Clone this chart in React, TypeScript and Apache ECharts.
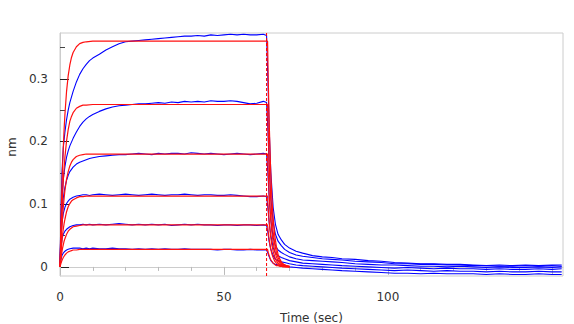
import React, { useEffect, useRef } from "react";
import * as echarts from "echarts";

// Time axis (sec) for measured (blue) traces
const blueT = [0, 0.3, 0.6, 1, 1.5, 2, 2.5, 3, 4, 5, 6, 7, 8, 9, 10,
  12, 14, 16, 18, 20, 22, 24, 26, 28, 30, 32, 34, 36, 38, 40, 42, 44, 46, 48, 50, 52, 54, 56, 58, 60, 62, 63,
  63.4, 63.8, 64.3, 65, 65.7, 66.5, 67.5, 68.5, 70, 72, 74, 77, 80, 83, 86, 90, 94, 98, 102, 106, 110, 114, 118, 122, 126, 130, 134, 138, 142, 146, 150, 153];

const blue1 = [0, 0.09, 0.15, 0.19, 0.215, 0.235, 0.25, 0.262, 0.28, 0.295, 0.307, 0.316, 0.323, 0.329, 0.333,
  0.339, 0.346, 0.351, 0.356, 0.359, 0.360, 0.361, 0.362, 0.363, 0.364, 0.365, 0.366, 0.367, 0.368, 0.368, 0.369, 0.368, 0.370, 0.369, 0.370, 0.371, 0.370, 0.371, 0.370, 0.370, 0.371, 0.369,
  0.30, 0.22, 0.15, 0.095, 0.068, 0.052, 0.043, 0.036, 0.030, 0.025, 0.022, 0.018, 0.016, 0.015, 0.013, 0.012, 0.010, 0.009, 0.007, 0.006, 0.005, 0.005, 0.004, 0.004, 0.003, 0.002, 0.003, 0.002, 0.003, 0.002, 0.003, 0.003];

const blue2 = [0, 0.07, 0.11, 0.14, 0.16, 0.175, 0.185, 0.193, 0.205, 0.215, 0.224, 0.231, 0.236, 0.240, 0.243,
  0.248, 0.252, 0.255, 0.257, 0.258, 0.259, 0.260, 0.260, 0.261, 0.262, 0.261, 0.263, 0.262, 0.264, 0.263, 0.264, 0.263, 0.265, 0.264, 0.264, 0.265, 0.264, 0.262, 0.260, 0.261, 0.264, 0.262,
  0.22, 0.16, 0.11, 0.072, 0.052, 0.041, 0.034, 0.028, 0.023, 0.019, 0.017, 0.015, 0.013, 0.012, 0.011, 0.009, 0.008, 0.007, 0.005, 0.005, 0.004, 0.004, 0.003, 0.003, 0.002, 0.002, 0.001, 0.001, 0.002, 0.001, 0.002, 0.001];

const blue3 = [0, 0.06, 0.09, 0.11, 0.127, 0.138, 0.146, 0.152, 0.159, 0.164, 0.167, 0.169, 0.171, 0.173, 0.174,
  0.176, 0.177, 0.178, 0.179, 0.179, 0.180, 0.181, 0.180, 0.179, 0.181, 0.180, 0.181, 0.181, 0.180, 0.182, 0.181, 0.180, 0.181, 0.180, 0.179, 0.180, 0.181, 0.180, 0.179, 0.180, 0.181, 0.180,
  0.15, 0.11, 0.075, 0.047, 0.034, 0.027, 0.023, 0.020, 0.016, 0.013, 0.011, 0.010, 0.009, 0.008, 0.007, 0.005, 0.004, 0.003, 0.003, 0.002, 0.001, 0.001, 0.000, 0.001, 0.000, -0.001, 0.000, -0.001, -0.001, 0.000, -0.001, 0.000];

const blue4 = [0, 0.045, 0.07, 0.085, 0.095, 0.101, 0.105, 0.108, 0.111, 0.113, 0.114, 0.115, 0.115, 0.114, 0.115,
  0.116, 0.115, 0.114, 0.115, 0.116, 0.115, 0.114, 0.115, 0.116, 0.115, 0.114, 0.115, 0.115, 0.116, 0.115, 0.114, 0.115, 0.115, 0.114, 0.114, 0.115, 0.114, 0.113, 0.112, 0.112, 0.113, 0.112,
  0.095, 0.07, 0.05, 0.031, 0.022, 0.018, 0.015, 0.013, 0.010, 0.008, 0.006, 0.005, 0.004, 0.003, 0.002, 0.001, 0.000, -0.001, -0.002, -0.001, -0.002, -0.003, -0.002, -0.003, -0.003, -0.004, -0.003, -0.004, -0.004, -0.003, -0.004, -0.003];

const blue5 = [0, 0.03, 0.045, 0.052, 0.057, 0.060, 0.062, 0.064, 0.066, 0.067, 0.067, 0.068, 0.067, 0.068, 0.067,
  0.068, 0.067, 0.068, 0.069, 0.068, 0.067, 0.068, 0.067, 0.068, 0.067, 0.068, 0.066, 0.067, 0.068, 0.067, 0.068, 0.067, 0.067, 0.066, 0.067, 0.067, 0.066, 0.067, 0.067, 0.066, 0.067, 0.066,
  0.055, 0.04, 0.028, 0.018, 0.012, 0.010, 0.008, 0.007, 0.005, 0.003, 0.002, 0.001, 0.000, -0.001, -0.002, -0.003, -0.004, -0.005, -0.006, -0.005, -0.006, -0.007, -0.006, -0.007, -0.007, -0.008, -0.007, -0.008, -0.008, -0.007, -0.008, -0.008];

const blue6 = [0, 0.012, 0.018, 0.022, 0.025, 0.027, 0.028, 0.029, 0.030, 0.030, 0.030, 0.029, 0.030, 0.029, 0.030,
  0.029, 0.029, 0.030, 0.029, 0.029, 0.028, 0.029, 0.028, 0.029, 0.028, 0.029, 0.028, 0.028, 0.029, 0.028, 0.028, 0.028, 0.028, 0.027, 0.028, 0.028, 0.027, 0.027, 0.028, 0.027, 0.027, 0.027,
  0.022, 0.016, 0.010, 0.006, 0.004, 0.003, 0.002, 0.002, 0.000, -0.001, -0.002, -0.003, -0.004, -0.005, -0.006, -0.007, -0.008, -0.009, -0.010, -0.010, -0.011, -0.010, -0.011, -0.011, -0.011, -0.012, -0.011, -0.012, -0.012, -0.011, -0.012, -0.012];

// Time axis (sec) for fitted (red) curves
const redT = [0, 0.25, 0.5, 0.75, 1, 1.25, 1.5, 2, 2.5, 3, 3.5, 4, 5, 6, 7, 8, 10, 12, 15, 20, 30, 40, 50, 60, 63.3,
  63.5, 63.8, 64.2, 64.6, 65, 65.5, 66, 66.5, 67, 67.5, 68, 69, 70];

const red1 = [0, 0.062, 0.113, 0.155, 0.190, 0.219, 0.243, 0.280, 0.305, 0.322, 0.334, 0.342, 0.351, 0.356, 0.358, 0.359, 0.360, 0.360, 0.360, 0.360, 0.360, 0.360, 0.360, 0.360, 0.360,
  0.301, 0.230, 0.160, 0.112, 0.078, 0.050, 0.032, 0.020, 0.013, 0.008, 0.005, 0.002, 0.001];
const red2 = [0, 0.044, 0.081, 0.111, 0.137, 0.157, 0.175, 0.201, 0.219, 0.232, 0.240, 0.246, 0.253, 0.256, 0.258, 0.258, 0.259, 0.259, 0.259, 0.259, 0.259, 0.259, 0.259, 0.259, 0.259,
  0.216, 0.165, 0.115, 0.080, 0.056, 0.036, 0.023, 0.015, 0.009, 0.006, 0.004, 0.002, 0.001];
const red3 = [0, 0.031, 0.056, 0.077, 0.095, 0.109, 0.122, 0.140, 0.152, 0.161, 0.167, 0.171, 0.176, 0.178, 0.179, 0.180, 0.180, 0.180, 0.180, 0.180, 0.180, 0.180, 0.180, 0.180, 0.180,
  0.150, 0.115, 0.080, 0.056, 0.039, 0.025, 0.016, 0.010, 0.006, 0.004, 0.003, 0.001, 0.000];
const red4 = [0, 0.019, 0.035, 0.049, 0.060, 0.069, 0.076, 0.088, 0.096, 0.101, 0.105, 0.107, 0.110, 0.112, 0.112, 0.113, 0.113, 0.113, 0.113, 0.113, 0.113, 0.113, 0.113, 0.113, 0.113,
  0.094, 0.072, 0.050, 0.035, 0.025, 0.016, 0.010, 0.006, 0.004, 0.003, 0.002, 0.001, 0.000];
const red5 = [0, 0.011, 0.021, 0.029, 0.035, 0.041, 0.045, 0.052, 0.057, 0.060, 0.062, 0.064, 0.065, 0.066, 0.067, 0.067, 0.067, 0.067, 0.067, 0.067, 0.067, 0.067, 0.067, 0.067, 0.067,
  0.056, 0.043, 0.030, 0.021, 0.015, 0.009, 0.006, 0.004, 0.002, 0.002, 0.001, 0.000, 0.000];
const red6 = [0, 0.005, 0.009, 0.012, 0.015, 0.017, 0.019, 0.022, 0.024, 0.025, 0.026, 0.027, 0.027, 0.028, 0.028, 0.028, 0.028, 0.028, 0.028, 0.028, 0.028, 0.028, 0.028, 0.028, 0.028,
  0.023, 0.018, 0.012, 0.009, 0.006, 0.004, 0.002, 0.002, 0.001, 0.001, 0.000, 0.000, 0.000];

const DISSOC_START = 63;
const X_MIN = 0;
const X_MAX = 153.4;
const Y_MIN = -0.0145;
const Y_MAX = 0.373;
const xMajorTicks = [0, 50, 100, 150];
const xLabels = [0, 50, 100];
const xMinorTicks = [10, 20, 30, 40, 60, 70, 80, 90, 110, 120, 130, 140];
const yMajorTicks = [0, 0.1, 0.2, 0.3];
const yMinorTicks = [0.05, 0.15, 0.25, 0.35];

const blueSeries = [blue1, blue2, blue3, blue4, blue5, blue6];
const redSeries = [red1, red2, red3, red4, red5, red6];

const FONT = "DejaVu Sans";

export default function App() {
  const ref = useRef<HTMLDivElement>(null);
  useEffect(() => {
    if (!ref.current) return;
    const chart = echarts.init(ref.current, null, { renderer: "svg" });
    const series: any[] = [];
    blueSeries.forEach((arr, k) => {
      series.push({
        type: "line",
        name: "data" + (k + 1),
        data: blueT.map((t, i) => [t, arr[i]]),
        showSymbol: false,
        silent: true,
        lineStyle: { color: "#0000ff", width: 1.1 },
        z: 2,
      });
    });
    redSeries.forEach((arr, k) => {
      series.push({
        type: "line",
        name: "fit" + (k + 1),
        data: redT.map((t, i) => [t, arr[i]]),
        showSymbol: false,
        silent: true,
        lineStyle: { color: "#ff1010", width: 1.2 },
        z: 3,
      });
    });
    series.push({
      type: "line",
      name: "dissociation start",
      data: [[DISSOC_START, Y_MIN], [DISSOC_START, Y_MAX]],
      showSymbol: false,
      silent: true,
      lineStyle: { color: "#ff0000", width: 1, type: [3, 2] },
      z: 4,
    });
    chart.setOption({
      animation: false,
      grid: {
        left: 60,
        right: 11,
        top: 33,
        bottom: 48,
        show: true,
        borderColor: "#cccccc",
        borderWidth: 1,
        backgroundColor: "transparent",
        outerBoundsMode: "none",
        containLabel: false,
      },
      xAxis: [
        {
          type: "value",
          min: X_MIN,
          max: X_MAX,
          name: "Time (sec)",
          nameLocation: "middle",
          nameGap: 36,
          nameTextStyle: { fontFamily: FONT, fontSize: 12, color: "#333" },
          axisLine: { show: true, lineStyle: { color: "#cccccc" } },
          axisTick: { show: true, customValues: xMajorTicks, length: 8, inside: false, lineStyle: { color: "#bbbbbb" } },
          axisLabel: { customValues: xLabels, margin: 15, fontFamily: FONT, fontSize: 12, color: "#333" },
          splitLine: { show: false },
        },
        {
          type: "value",
          min: X_MIN,
          max: X_MAX,
          position: "bottom",
          axisLine: { show: false },
          axisTick: { show: true, customValues: xMinorTicks, length: 4, inside: false, lineStyle: { color: "#bbbbbb" } },
          axisLabel: { show: false },
          splitLine: { show: false },
        },
      ],
      yAxis: [
        {
          type: "value",
          min: Y_MIN,
          max: Y_MAX,
          axisLine: { show: true, lineStyle: { color: "#cccccc" } },
          axisTick: { show: true, customValues: yMajorTicks, length: 9, inside: true, lineStyle: { color: "#222222" } },
          axisLabel: { customValues: yMajorTicks, margin: 12, fontFamily: FONT, fontSize: 12, color: "#333", formatter: (v: number) => String(v) },
          splitLine: { show: false },
        },
        {
          type: "value",
          min: Y_MIN,
          max: Y_MAX,
          position: "left",
          axisLine: { show: false },
          axisTick: { show: true, customValues: yMinorTicks, length: 5, inside: true, lineStyle: { color: "#444444" } },
          axisLabel: { show: false },
          splitLine: { show: false },
        },
      ],
      graphic: [
        {
          type: "text",
          x: 12,
          y: 147,
          rotation: Math.PI / 2,
          style: { text: "nm", fontFamily: FONT, fontSize: 12, fill: "#333", align: "center", verticalAlign: "middle" },
        },
      ],
      series,
    });
    return () => chart.dispose();
  }, []);
  return <div ref={ref} style={{ position: "absolute", left: 0, top: 0, width: 574, height: 324 }} />;
}
